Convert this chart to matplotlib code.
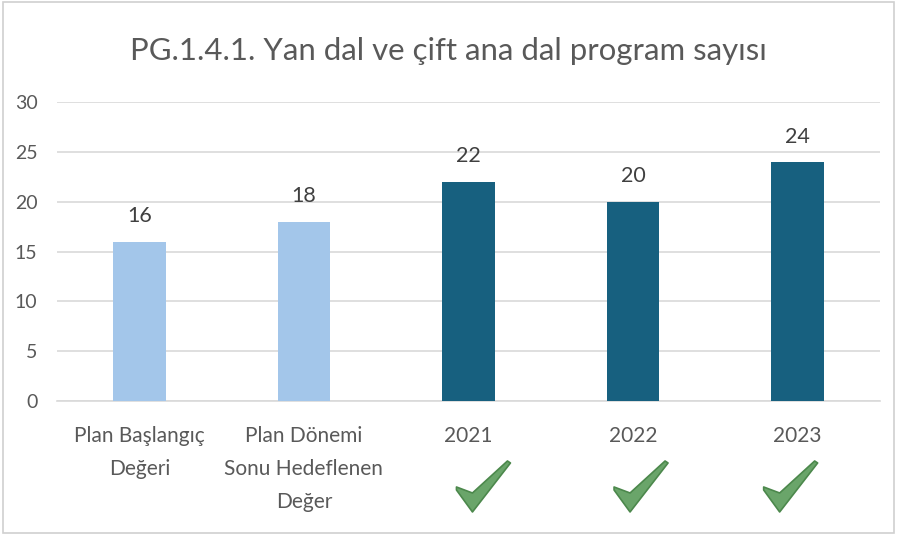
import matplotlib
matplotlib.use("Agg")
import matplotlib.pyplot as plt
from matplotlib.patches import Polygon, Rectangle
import numpy as np

# data
categories = ["Plan Başlangıç\nDeğeri", "Plan Dönemi\nSonu Hedeflenen\nDeğer", "2021", "2022", "2023"]
values = [16, 18, 22, 20, 24]
achieved = [False, False, True, True, True]   # green tick under the bar
title = "PG.1.4.1. Yan dal ve çift ana dal program sayısı"

LIGHT = "#A3C6EA"
DARK = "#17607F"
TXT = "#595959"
GRID = "#D9D9D9"

plt.rcParams["font.family"] = ["Lato", "DejaVu Sans"]

fig = plt.figure(figsize=(8.97, 5.35), dpi=100)
ax = fig.add_axes([0.0635, 0.2505, 0.9175, 0.5588])

x = np.arange(len(values))
cols = [DARK if a else LIGHT for a in achieved]
bars = ax.bar(x, values, width=0.32, color=cols, zorder=3)
for b, v in zip(bars, values):
    ax.annotate(str(v), (b.get_x() + b.get_width() / 2, v), xytext=(0, 11),
                textcoords="offset points", ha="center", va="bottom",
                fontsize=15.5, color="#404040")

ax.set_xlim(-0.5, len(values) - 0.5)
ax.set_ylim(0, 30)
ax.set_yticks(range(0, 31, 5))
ax.set_xticks(x)
ax.set_xticklabels(categories, fontsize=15, color=TXT, linespacing=1.8, va="top")
ax.tick_params(axis="y", labelsize=14, labelcolor=TXT, length=0, pad=14)
ax.tick_params(axis="x", length=0, pad=18)
ax.yaxis.grid(True, color=GRID, lw=1.2, zorder=0)
for s in ["top", "right", "left"]:
    ax.spines[s].set_visible(False)
ax.spines["bottom"].set_color(GRID)
ax.spines["bottom"].set_linewidth(1.2)

fig.text(0.5, 0.905, title, ha="center", va="center", fontsize=22.4, color=TXT)

# green check marks below achieved years (pixel offsets from bar base)
tick_shape = np.array([(-12, -86), (4, -92), (39, -60), (42, -62), (4, -111), (-12, -89)], float)
tick_shift = [0, 0, 0, -7, -22]   # the ticks drift left of the bars in the original
fig.canvas.draw()
for xi, a, dx in zip(x, achieved, tick_shift):
    if not a:
        continue
    ox, oy = ax.transData.transform((xi, 0))
    verts = tick_shape + [ox + dx, oy]
    fig.patches.append(Polygon(verts, closed=True, transform=None, facecolor="#6AA56A",
                               edgecolor="#4C884C", lw=1.2, joinstyle="round", figure=fig))

fig.patches.append(Rectangle((0.003, 0.004), 0.994, 0.992, transform=fig.transFigure,
                             fill=False, edgecolor="#D0D0D0", lw=1.2, figure=fig))

fig.savefig("out.png", dpi=100)
